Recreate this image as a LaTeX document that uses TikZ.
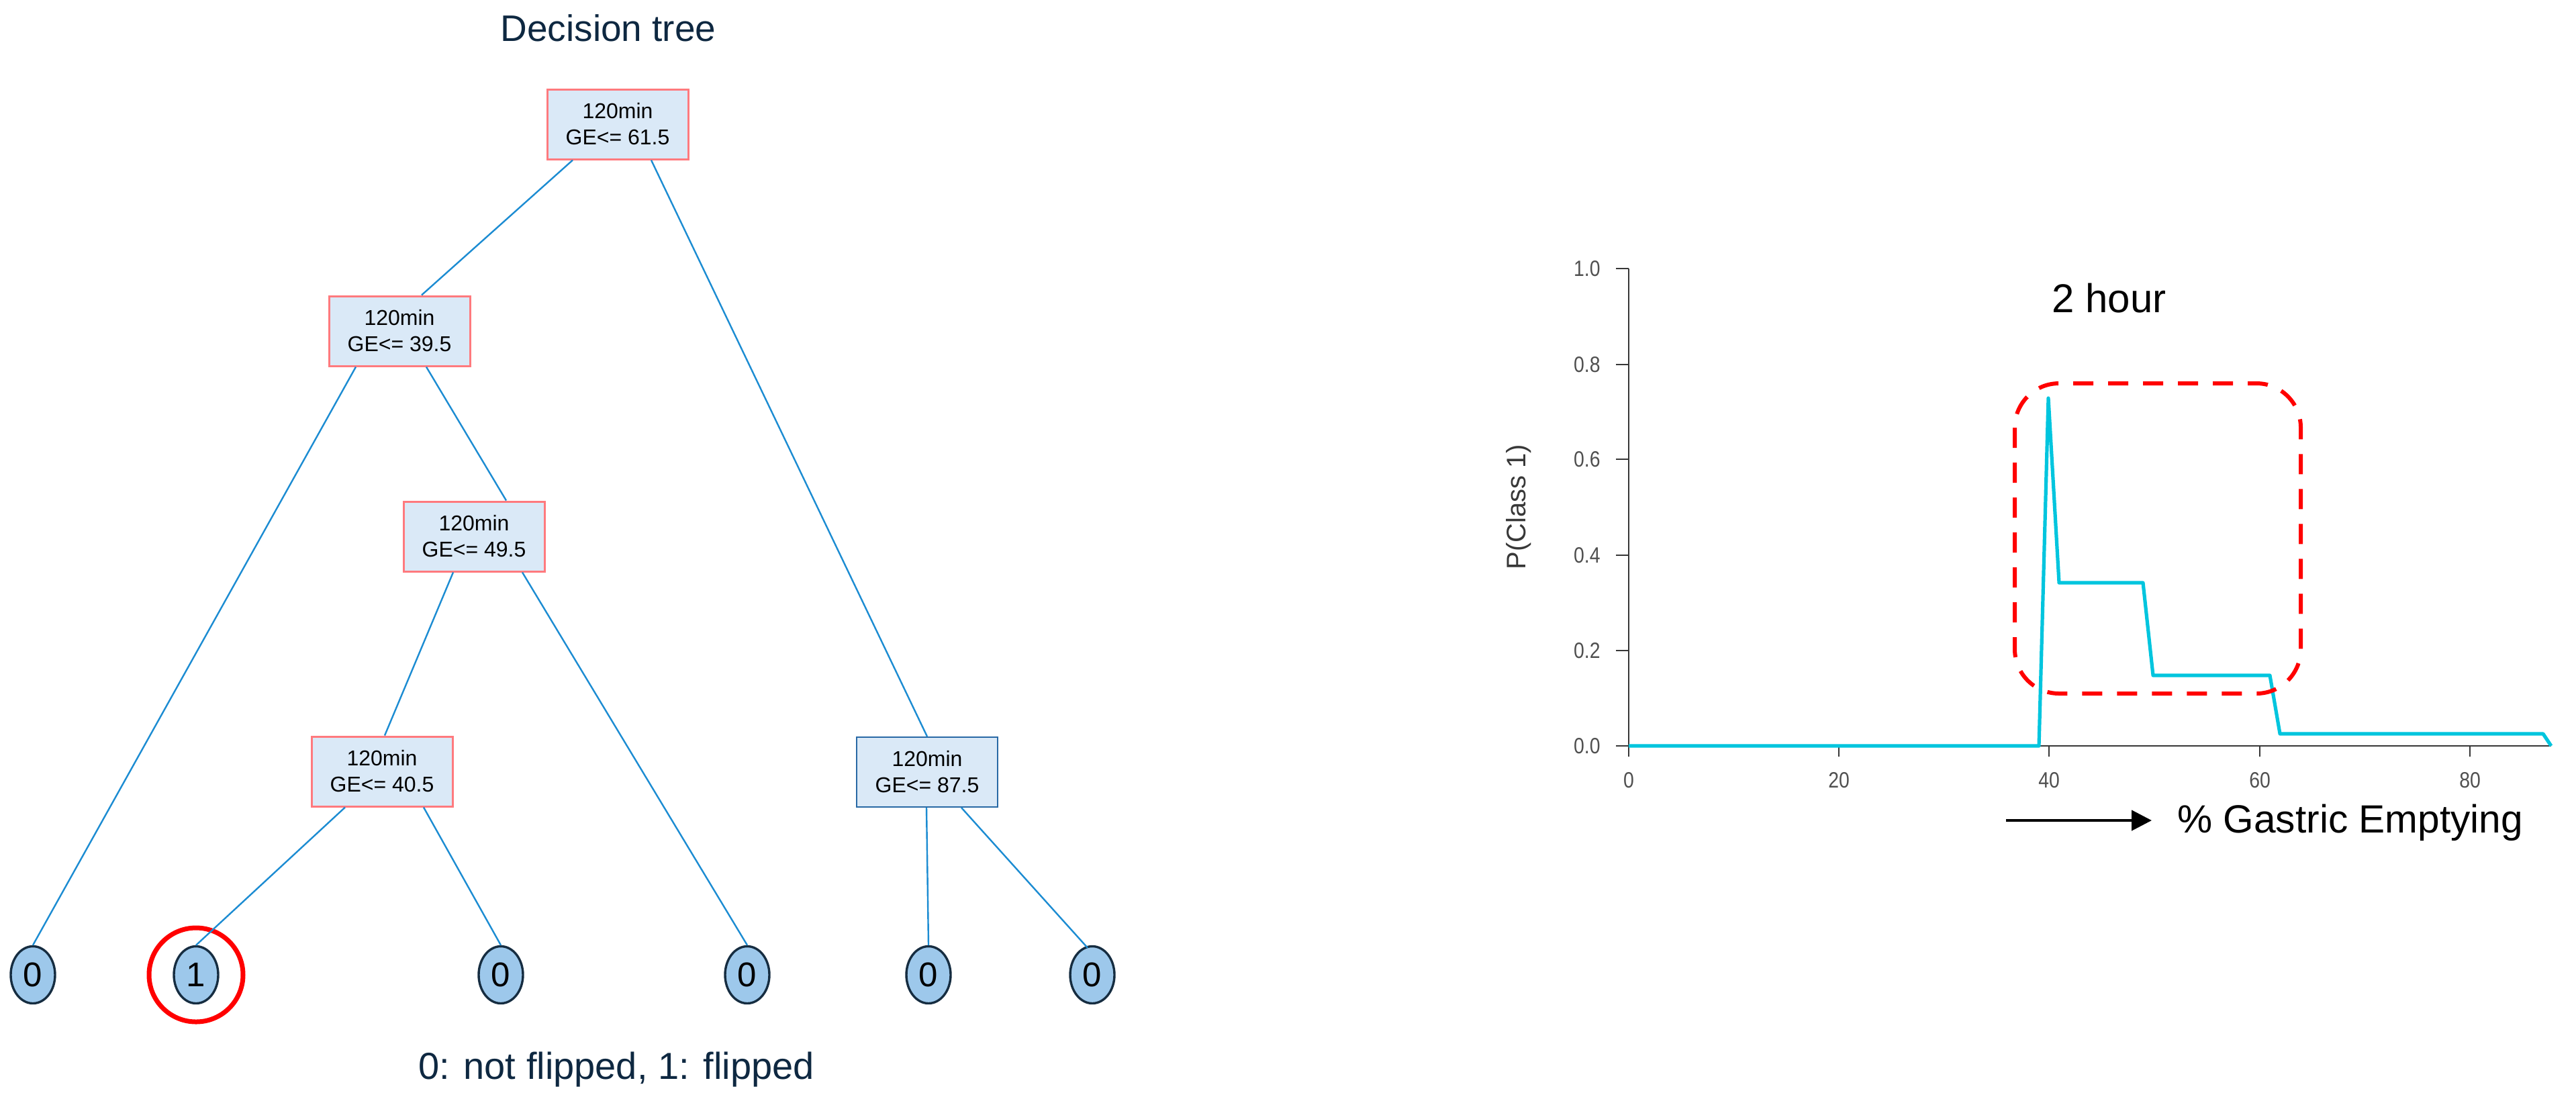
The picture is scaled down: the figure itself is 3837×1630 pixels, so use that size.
\documentclass[tikz,border=0pt]{standalone}
\usepackage{fontspec}
\setmainfont{Liberation Sans}
\newfontfamily\narrowfont[FakeStretch=0.86]{Liberation Sans}
\usetikzlibrary{shapes.geometric,arrows.meta,calc}
\definecolor{navy}{RGB}{14,40,65}
\definecolor{boxfill}{RGB}{218,233,247}
\definecolor{boxred}{RGB}{255,122,126}
\definecolor{boxblue}{RGB}{40,105,165}
\definecolor{edgeblue}{RGB}{28,140,210}
\definecolor{leaffill}{RGB}{157,200,235}
\definecolor{leafdraw}{RGB}{22,45,65}
\definecolor{curvecyan}{RGB}{0,197,222}
\definecolor{axisgray}{RGB}{55,55,55}
\definecolor{labgray}{RGB}{80,80,80}
\begin{document}
\begin{tikzpicture}[x=0.5pt,y=-0.5pt,
  tbox/.style={draw=boxred, fill=boxfill, line width=1.5pt, minimum width=105pt, minimum height=52pt, inner sep=0pt, align=center, font=\fontsize{16}{19.5}\selectfont},
  bbox/.style={tbox, draw=boxblue, line width=1pt},
  leaf/.style={ellipse, draw=leafdraw, fill=leaffill, line width=1.7pt, minimum width=33pt, minimum height=42.5pt, inner sep=0pt, font=\fontsize{25.5}{30}\selectfont},
  edge/.style={draw=edgeblue, line width=1.2pt},
  ylab/.style={anchor=east, inner sep=0pt, text=labgray, font=\narrowfont\fontsize{16.5}{18}\selectfont},
  xlab/.style={anchor=north, inner sep=0pt, text=labgray, font=\narrowfont\fontsize{16.5}{18}\selectfont},
  axis/.style={draw=axisgray, line width=1.4pt},
  curve/.style={draw=curvecyan, line width=2.6pt, line join=round}
]
\useasboundingbox (0,0) rectangle (3837,1630);
\fill[white] (0,0) rectangle (3837,1630);

% ---------- decision tree ----------
\node[anchor=base, text=navy, font=\fontsize{27.5}{32}\selectfont, inner sep=0pt] (title) at (906,61) {Decision tree};
\node[anchor=base, text=navy, font=\fontsize{28}{32}\selectfont, inner sep=0pt] (legend) at (918,1607) {0: not flipped, 1: flipped};

\node[tbox] (root) at (920,185) {120min\\GE<= 61.5};
\node[tbox] (n395) at (595,493) {120min\\GE<= 39.5};
\node[tbox] (n495) at (706,799) {120min\\GE<= 49.5};
\node[tbox] (n405) at (569,1149) {120min\\GE<= 40.5};
\node[bbox] (n875) at (1381,1150) {120min\\GE<= 87.5};

\node[leaf] (lA) at (49,1452) {0};
\node[leaf] (lB) at (292,1452) {1};
\node[leaf] (lC) at (746,1452) {0};
\node[leaf] (lD) at (1113,1452) {0};
\node[leaf] (lE) at (1383,1452) {0};
\node[leaf] (lF) at (1627,1452) {0};

\draw[red, line width=3.5pt] (lB) circle[radius=35pt];

\draw[edge] ($(root.south)+(-67,0)$) -- ($(n395.north)+(33,0)$);
\draw[edge] ($(root.south)+(50,0)$) -- (n875.north);
\draw[edge] ($(n395.south)+(-65,0)$) -- (lA.north);
\draw[edge] ($(n395.south)+(40,0)$) -- ($(n495.north)+(48,0)$);
\draw[edge] ($(n495.south)+(-31,0)$) -- ($(n405.north)+(4,0)$);
\draw[edge] ($(n495.south)+(72,0)$) -- (lD.north);
\draw[edge] ($(n405.south)+(-55,0)$) -- (lB.north);
\draw[edge] ($(n405.south)+(62,0)$) -- (lC.north);
\draw[edge] ($(n875.south)+(-1,0)$) -- (lE.north);
\draw[edge] ($(n875.south)+(51,0)$) -- ($(lF.north)+(-7,4)$);

% ---------- chart ----------
\draw[axis] (2426,400) -- (2426,1127);
\draw[axis] (2426,1111) -- (3800,1111);
\foreach \v/\y in {0.0/1111, 0.2/969, 0.4/827, 0.6/684, 0.8/543, 1.0/400} {
  \draw[axis] (2407,\y) -- (2426,\y);
  \node[ylab] (yl\v) at (2384,\y) {\v};
}
\foreach \k/\x in {0/2426, 20/2739, 40/3052, 60/3366, 80/3679} {
  \draw[axis] (\x,1111) -- (\x,1127);
  \node[xlab] (xl\k) at (\x,1150) {\k};
}

\draw[curve] (2426,1111) -- (3037,1111) -- (3051,593) -- (3067,868) -- (3192,868)
  -- (3207,1006) -- (3381,1006) -- (3396,1093) -- (3788,1093) -- (3800,1111);

\draw[red, line width=3pt, dash pattern=on 15pt off 11pt, rounded corners=33pt]
  (3001,571) rectangle (3427,1033);

\node[anchor=base west, inner sep=0pt, font=\fontsize{30}{34}\selectfont] (hour) at (3056,465) {2 hour};
\node[rotate=90, inner sep=0pt, text=labgray!70!black, font=\fontsize{20}{24}\selectfont] (ylabel) at (2262,755) {P(Class 1)};

\node[anchor=base west, inner sep=0pt, font=\fontsize{29.3}{34}\selectfont] (xlabel) at (3243,1240) {\% Gastric Emptying};
\coordinate (arrs) at (2988,1222);
\draw[line width=2.2pt, -{Triangle[length=15pt,width=15pt]}] (arrs) -- ($(xlabel.base west)+(-38,-18)$);
\end{tikzpicture}
\end{document}
